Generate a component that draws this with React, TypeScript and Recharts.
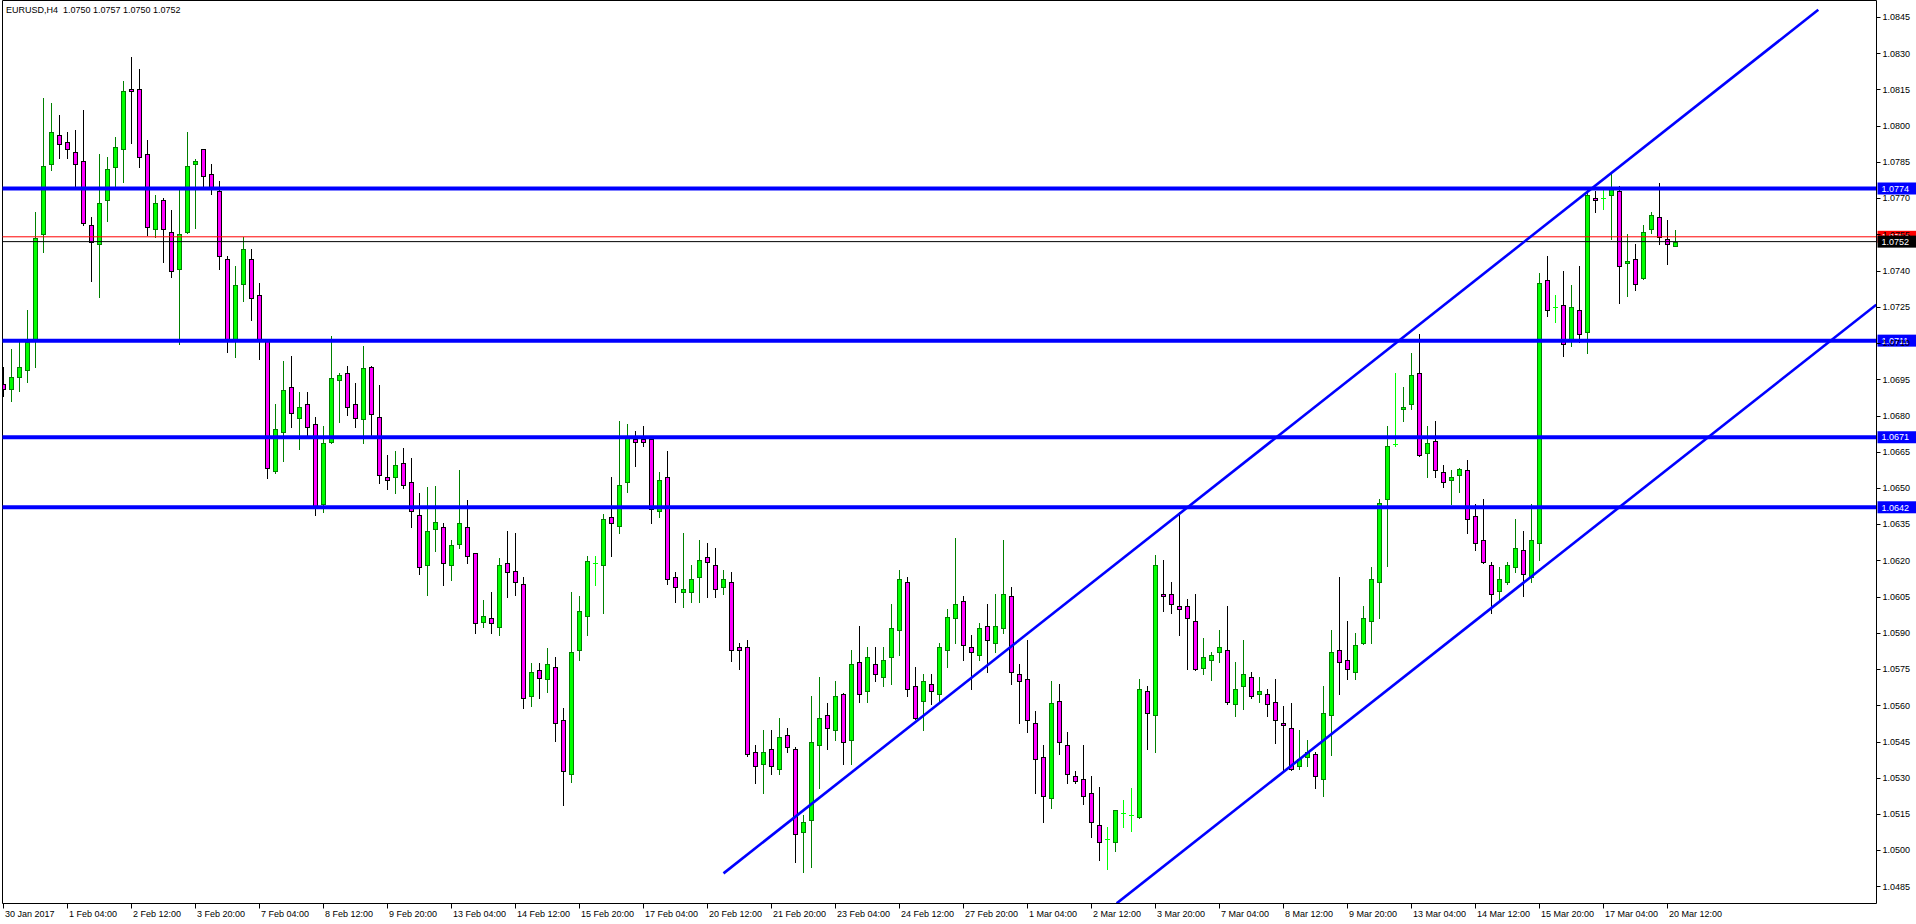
import React from 'react';
import { ComposedChart, Bar, XAxis, YAxis, ReferenceLine } from 'recharts';

// ---- OHLC data (EURUSD H4), bar index 0 = 30 Jan 2017 20:00 ----
const opens = [
  1.0693, 1.0691, 1.0696, 1.0699, 1.07113, 1.0755, 1.0784, 1.0796, 1.07931, 1.0789,
  1.07852, 1.07587, 1.07509, 1.07691, 1.0783, 1.07902, 1.08151, 1.08151, 1.07881, 1.07571,
  1.07691, 1.07558, 1.07408, 1.07558, 1.0784, 1.07902, 1.07799, 1.07728, 1.07447, 1.07107,
  1.07346, 1.07447, 1.07298, 1.07107, 1.06572, 1.06733, 1.06917, 1.06791, 1.06846, 1.06763,
  1.06432, 1.06692, 1.06946, 1.06975, 1.06846, 1.06784, 1.07002, 1.06792, 1.06544, 1.06544,
  1.06602, 1.06523, 1.0639, 1.06179, 1.06332, 1.0634, 1.06179, 1.0627, 1.0634, 1.06229,
  1.05947, 1.0596, 1.05926, 1.06191, 1.06158, 1.06101, 1.05637, 1.05748, 1.05707, 1.05757,
  1.05538, 1.05314, 1.05827, 1.05968, 1.06191, 1.0618, 1.06381, 1.06341, 1.06523, 1.06704,
  1.06704, 1.06704, 1.06403, 1.06544, 1.0613, 1.06071, 1.06071, 1.0613, 1.06213, 1.0618,
  1.06089, 1.06109, 1.0584, 1.0584, 1.05405, 1.05356, 1.05418, 1.05335, 1.05476, 1.05418,
  1.05074, 1.05124, 1.05434, 1.05559, 1.05496, 1.05646, 1.05455, 1.05778, 1.05658, 1.0577,
  1.05716, 1.05799, 1.0591, 1.06109, 1.05679, 1.05617, 1.05687, 1.05646, 1.05828, 1.0596,
  1.06031, 1.0584, 1.05807, 1.05927, 1.05857, 1.05919, 1.06051, 1.05728, 1.05708, 1.05525,
  1.05385, 1.05215, 1.05617, 1.05434, 1.05306, 1.05294, 1.05236, 1.05103, 1.05045, 1.05033,
  1.05153, 1.05144, 1.05136, 1.05658, 1.05559, 1.0606, 1.0606, 1.0601, 1.0601, 1.05948,
  1.05756, 1.05786, 1.05819, 1.05828, 1.05607, 1.05679, 1.05716, 1.05646, 1.05646, 1.05615,
  1.05525, 1.05505, 1.05347, 1.05385, 1.05397, 1.05294, 1.05559, 1.05828, 1.05786, 1.05737,
  1.05857, 1.05948, 1.06109, 1.06453, 1.06682, 1.06826, 1.06846, 1.06975, 1.06643, 1.06693,
  1.06565, 1.06532, 1.06552, 1.06573, 1.06383, 1.06283, 1.0618, 1.06072, 1.06109, 1.06171,
  1.06242, 1.0613, 1.06271, 1.0736, 1.07248, 1.07256, 1.07107, 1.07236, 1.07144, 1.07699,
  1.07699, 1.07712, 1.07728, 1.0743, 1.07447, 1.07368, 1.07571, 1.07621, 1.0753, 1.0750,
];
const highs = [
  1.0700, 1.07074, 1.07115, 1.07237, 1.07641, 1.08113, 1.08093, 1.08044, 1.07973, 1.07982,
  1.08065, 1.07621, 1.07881, 1.07869, 1.07952, 1.08184, 1.08283, 1.08233, 1.07941, 1.07713,
  1.07699, 1.07651, 1.0774, 1.07973, 1.07862, 1.07905, 1.07841, 1.07771, 1.0746, 1.07419,
  1.07538, 1.07488, 1.07347, 1.0711, 1.06848, 1.07026, 1.07046, 1.06897, 1.06897, 1.06794,
  1.06757, 1.07129, 1.06975, 1.07005, 1.06933, 1.07088, 1.07005, 1.06926, 1.06637, 1.06653,
  1.06664, 1.06622, 1.06481, 1.06502, 1.0651, 1.06353, 1.06283, 1.06573, 1.06451, 1.06232,
  1.06038, 1.06071, 1.06212, 1.0632, 1.06312, 1.06131, 1.05777, 1.05777, 1.05839, 1.05798,
  1.05588, 1.06071, 1.06051, 1.0622, 1.0622, 1.06391, 1.06544, 1.06776, 1.06763, 1.06735,
  1.06755, 1.06712, 1.06565, 1.06652, 1.06151, 1.06312, 1.0618, 1.06283, 1.06271, 1.0625,
  1.06159, 1.06151, 1.05857, 1.05869, 1.05434, 1.05496, 1.05496, 1.05546, 1.05505, 1.05426,
  1.05146, 1.05639, 1.05716, 1.05608, 1.05699, 1.0565, 1.05828, 1.05927, 1.0584, 1.0584,
  1.0584, 1.06018, 1.06159, 1.0613, 1.05757, 1.05728, 1.05728, 1.05857, 1.05997, 1.06291,
  1.06051, 1.0589, 1.05939, 1.06018, 1.0606, 1.06283, 1.06089, 1.0577, 1.0587, 1.05575,
  1.05434, 1.05699, 1.05687, 1.05488, 1.05327, 1.05434, 1.05306, 1.0526, 1.05095, 1.05168,
  1.05207, 1.05256, 1.05708, 1.05679, 1.06221, 1.062, 1.06109, 1.0640, 1.06039, 1.0606,
  1.05877, 1.05819, 1.0591, 1.06011, 1.05778, 1.05869, 1.05737, 1.05716, 1.05666, 1.05708,
  1.05596, 1.05608, 1.05496, 1.05455, 1.05405, 1.05679, 1.0591, 1.0613, 1.05948, 1.05898,
  1.0601, 1.06171, 1.06453, 1.06755, 1.06975, 1.06917, 1.07057, 1.07136, 1.06755, 1.06776,
  1.06594, 1.06573, 1.06581, 1.06614, 1.06432, 1.06453, 1.06192, 1.06171, 1.06192, 1.0637,
  1.0632, 1.06432, 1.07389, 1.07459, 1.07298, 1.07397, 1.07339, 1.07419, 1.0774, 1.07728,
  1.0774, 1.0781, 1.07749, 1.0755, 1.07509, 1.07587, 1.07641, 1.07761, 1.07608, 1.0757,
];
const lows = [
  1.0688, 1.0686, 1.0690, 1.0694, 1.0700, 1.07478, 1.07817, 1.07868, 1.07868, 1.0774,
  1.07587, 1.07358, 1.0729, 1.07607, 1.07748, 1.07768, 1.0793, 1.0783, 1.07549, 1.07538,
  1.07437, 1.07375, 1.07095, 1.07555, 1.07578, 1.0774, 1.07717, 1.07407, 1.07064, 1.07044,
  1.07274, 1.07196, 1.07035, 1.06543, 1.06563, 1.06613, 1.06754, 1.06663, 1.06721, 1.06388,
  1.06402, 1.06685, 1.06775, 1.06804, 1.06754, 1.06685, 1.06712, 1.06522, 1.06494, 1.06481,
  1.06501, 1.06339, 1.06142, 1.06058, 1.0624, 1.061, 1.0612, 1.0625, 1.0619, 1.05898,
  1.05925, 1.05898, 1.0589, 1.06049, 1.06058, 1.05588, 1.05596, 1.05629, 1.05657, 1.05453,
  1.05186, 1.05284, 1.05786, 1.0589, 1.061, 1.05981, 1.0622, 1.06312, 1.06482, 1.06592,
  1.06672, 1.06354, 1.06381, 1.06101, 1.06029, 1.06009, 1.06029, 1.06029, 1.0605, 1.0605,
  1.0606, 1.05785, 1.05749, 1.05392, 1.05277, 1.05236, 1.05314, 1.05314, 1.05405, 1.04953,
  1.04911, 1.04932, 1.05256, 1.05418, 1.05455, 1.05356, 1.05356, 1.05615, 1.05615, 1.05699,
  1.05679, 1.05687, 1.05807, 1.05637, 1.05543, 1.05496, 1.05604, 1.05617, 1.05757, 1.05857,
  1.05786, 1.05666, 1.05786, 1.05737, 1.05819, 1.05898, 1.05687, 1.05525, 1.05488, 1.05236,
  1.05115, 1.05173, 1.05397, 1.05277, 1.05277, 1.0519, 1.05053, 1.04961, 1.04924, 1.04995,
  1.05095, 1.05081, 1.05133, 1.05418, 1.05405, 1.05989, 1.05981, 1.0589, 1.05749, 1.05745,
  1.05728, 1.05706, 1.05778, 1.05607, 1.05557, 1.05586, 1.05629, 1.05615, 1.05557, 1.05445,
  1.05327, 1.05332, 1.05335, 1.05347, 1.05256, 1.05223, 1.05396, 1.05646, 1.05708, 1.05708,
  1.05855, 1.05857, 1.0596, 1.06178, 1.06672, 1.06776, 1.06826, 1.06632, 1.06544, 1.06544,
  1.06503, 1.06432, 1.06482, 1.06312, 1.06242, 1.06189, 1.05981, 1.06031, 1.06101, 1.06151,
  1.06051, 1.06109, 1.062, 1.07213, 1.07186, 1.07045, 1.07086, 1.07106, 1.07057, 1.07641,
  1.07656, 1.0753, 1.07267, 1.07296, 1.07318, 1.07365, 1.07557, 1.07509, 1.07429, 1.0750,
];
const closes = [
  1.0691, 1.0696, 1.0700, 1.07106, 1.07536, 1.07832, 1.07973, 1.07923, 1.07902, 1.0784,
  1.07599, 1.07518, 1.07679, 1.07819, 1.0791, 1.08142, 1.08142, 1.07869, 1.07579, 1.07679,
  1.07571, 1.07397, 1.0755, 1.07832, 1.07852, 1.0779, 1.0774, 1.07459, 1.07113, 1.07339,
  1.07488, 1.07288, 1.07113, 1.06581, 1.06743, 1.06904, 1.06812, 1.06834, 1.06754, 1.06423,
  1.06685, 1.06954, 1.06966, 1.06834, 1.06791, 1.06995, 1.06805, 1.06552, 1.06532, 1.06594,
  1.06511, 1.06403, 1.06171, 1.0632, 1.06361, 1.06191, 1.06262, 1.06353, 1.0622, 1.05939,
  1.05968, 1.05939, 1.06179, 1.0615, 1.06109, 1.05629, 1.05736, 1.05715, 1.05769, 1.05525,
  1.05327, 1.05819, 1.05989, 1.06199, 1.06191, 1.0637, 1.06354, 1.06511, 1.06712, 1.06692,
  1.06692, 1.06411, 1.06532, 1.06122, 1.06089, 1.0608, 1.06122, 1.062, 1.06192, 1.0608,
  1.06122, 1.05828, 1.05828, 1.05397, 1.05347, 1.05405, 1.05347, 1.05467, 1.05426, 1.05066,
  1.05115, 1.05447, 1.05546, 1.05505, 1.05637, 1.05447, 1.0577, 1.05646, 1.05799, 1.05728,
  1.05786, 1.05919, 1.06122, 1.05666, 1.05546, 1.05699, 1.05658, 1.0584, 1.05967, 1.06018,
  1.05848, 1.05819, 1.05919, 1.05869, 1.05927, 1.0606, 1.05737, 1.05699, 1.05538, 1.05376,
  1.05223, 1.05608, 1.05447, 1.05314, 1.05285, 1.05223, 1.05115, 1.05033, 1.05045, 1.05165,
  1.05153, 1.05144, 1.05666, 1.05567, 1.0618, 1.06051, 1.06018, 1.05997, 1.0596, 1.05749,
  1.05799, 1.05807, 1.0584, 1.05615, 1.05666, 1.05728, 1.05637, 1.05658, 1.05607, 1.05538,
  1.05517, 1.05335, 1.05376, 1.05405, 1.05306, 1.05567, 1.05819, 1.05778, 1.05749, 1.05848,
  1.0596, 1.06122, 1.06439, 1.06672, 1.06682, 1.06834, 1.06966, 1.06635, 1.06685, 1.06573,
  1.06523, 1.06544, 1.06578, 1.0637, 1.06271, 1.06192, 1.0606, 1.06122, 1.0618, 1.0625,
  1.06142, 1.06283, 1.07347, 1.07236, 1.07248, 1.07095, 1.07248, 1.07136, 1.07712, 1.07691,
  1.07699, 1.0774, 1.07418, 1.07438, 1.07346, 1.07558, 1.07629, 1.07538, 1.07509, 1.0752,
];

// time-scale labels, one every 8 bars
const xTickLabels = [
  '30 Jan 2017', '1 Feb 04:00', '2 Feb 12:00', '3 Feb 20:00', '7 Feb 04:00', '8 Feb 12:00',
  '9 Feb 20:00', '13 Feb 04:00', '14 Feb 12:00', '15 Feb 20:00', '17 Feb 04:00', '20 Feb 12:00',
  '21 Feb 20:00', '23 Feb 04:00', '24 Feb 12:00', '27 Feb 20:00', '1 Mar 04:00', '2 Mar 12:00',
  '3 Mar 20:00', '7 Mar 04:00', '8 Mar 12:00', '9 Mar 20:00', '13 Mar 04:00', '14 Mar 12:00',
  '15 Mar 20:00', '17 Mar 04:00', '20 Mar 12:00',
];
const yTickValues = [
  1.0485, 1.0500, 1.0515, 1.0530, 1.0545, 1.0560, 1.0575, 1.0590, 1.0605, 1.0620,
  1.0635, 1.0650, 1.0665, 1.0680, 1.0695, 1.0710, 1.0725, 1.0740, 1.0755, 1.0770,
  1.0785, 1.0800, 1.0815, 1.0830, 1.0845,
];
const levelPrices = [1.0774, 1.0711, 1.0671, 1.0642];
const askPrice = 1.0754;
const bidPrice = 1.0752;
// channel trend lines: [bar index, price]
const upperChannel = [[90.0, 1.04904], [226.85, 1.0848]];
const lowerChannel = [[139.15, 1.0478], [234.1, 1.07259]];

const X_DOMAIN: [number, number] = [-0.125, 234.125];
const Y_DOMAIN: [number, number] = [1.0477934, 1.0851847];

const FONT = 'Liberation Sans, Arial, sans-serif';
const BULL_FILL = '#00FF00';
const BULL_LINE = '#008000';
const BEAR_FILL = '#FF00FF';
const BEAR_LINE = '#000000';
const DOJI = '#00FF00';
const LEVEL_BLUE = '#0000FF';

const data = opens.map((o, i) => ({ i, o, h: highs[i], l: lows[i], c: closes[i] }));

function Candle(props: any) {
  const { x, y, width, height, payload } = props;
  if (payload == null || height == null || !isFinite(height)) return null;
  const { o, h, l, c } = payload;
  const k = h - l > 0 ? height / (h - l) : 0;
  const py = (v: number) => y + (h - v) * k;
  const cx = Math.floor(x + width / 2 + 1e-6) + 0.5;
  const yH = Math.round(py(h));
  const yL = Math.round(py(l)) + 1;
  if (o === c) {
    const yo = Math.round(py(o)) + 0.5;
    return (
      <g>
        <line x1={cx} x2={cx} y1={yH} y2={yL} stroke={DOJI} strokeWidth={1} />
        <line x1={cx - 2.5} x2={cx + 2.5} y1={yo} y2={yo} stroke={DOJI} strokeWidth={1} />
      </g>
    );
  }
  const bull = c > o;
  const stroke = bull ? BULL_LINE : BEAR_LINE;
  const fill = bull ? BULL_FILL : BEAR_FILL;
  const top = Math.round(py(Math.max(o, c)));
  const bot = Math.round(py(Math.min(o, c)));
  const bh = Math.max(bot - top, 1);
  return (
    <g>
      <line x1={cx} x2={cx} y1={yH} y2={yL} stroke={stroke} strokeWidth={1} />
      <rect x={cx - 2} y={top + 0.5} width={4} height={bh} fill={fill} stroke={stroke} strokeWidth={1} />
    </g>
  );
}

function PriceTag(props: any) {
  const { viewBox, price, bg } = props;
  if (!viewBox) return null;
  const left = viewBox.x + viewBox.width;
  const y = viewBox.y;
  return (
    <g>
      <rect x={left + 1} y={y - 6} width={40} height={12} fill={bg} />
      <text x={left + 5} y={y} dy="0.36em" fill="#FFFFFF" fontSize={9} fontFamily={FONT}>
        {price.toFixed(4)}
      </text>
    </g>
  );
}

function YTick(props: any) {
  const { x, y, payload } = props;
  return (
    <g>
      <line x1={x} x2={x + 4} y1={Math.round(y) + 0.5} y2={Math.round(y) + 0.5} stroke="#000" strokeWidth={1} />
      <text x={x + 6} y={y} dy="0.36em" fill="#000" fontSize={9} fontFamily={FONT}>
        {Number(payload.value).toFixed(4)}
      </text>
    </g>
  );
}

function XTick(props: any) {
  const { x, y, payload } = props;
  const label = xTickLabels[Math.round(payload.value / 8)];
  const xs = Math.floor(x + 1e-6) + 0.5;
  return (
    <g>
      <line x1={xs} x2={xs} y1={y} y2={y + 5} stroke="#000" strokeWidth={1} />
      <text x={xs + 1.5} y={y + 10} dy="0.36em" fill="#000" fontSize={9} fontFamily={FONT}>
        {label}
      </text>
    </g>
  );
}

export default function App() {
  const xTicks = xTickLabels.map((_, j) => j * 8);
  return (
    <div style={{ position: 'absolute', left: 0, top: 0, width: 1916, height: 924, background: '#fff' }}>
      <ComposedChart
        width={1916}
        height={924}
        data={data}
        margin={{ top: 0.5, right: 0, bottom: 0, left: 2.5 }}
      >
        <XAxis
          type="number"
          dataKey="i"
          domain={X_DOMAIN}
          allowDataOverflow
          ticks={xTicks}
          interval={0}
          height={20.5}
          tickSize={0}
          tickMargin={0}
          tickLine={false}
          axisLine={{ stroke: '#000', strokeWidth: 1 }}
          tick={<XTick />}
        />
        <YAxis
          type="number"
          orientation="right"
          domain={Y_DOMAIN}
          allowDataOverflow
          ticks={yTickValues}
          interval={0}
          width={39.5}
          tickSize={0}
          tickMargin={0}
          tickLine={false}
          axisLine={{ stroke: '#000', strokeWidth: 1 }}
          tick={<YTick />}
        />
        <Bar
          dataKey={(d: any) => [d.l, d.h]}
          barSize={6}
          isAnimationActive={false}
          shape={(p: any) => <Candle {...p} />}
        />
        <ReferenceLine x={X_DOMAIN[0]} stroke="#000" strokeWidth={1} ifOverflow="visible" />
        <ReferenceLine y={Y_DOMAIN[1]} stroke="#000" strokeWidth={1} ifOverflow="visible" />
        <ReferenceLine y={askPrice} stroke="#FF0000" strokeWidth={1} label={<PriceTag price={askPrice} bg="#FF0000" />} />
        <ReferenceLine y={bidPrice} stroke="#000000" strokeWidth={1} label={<PriceTag price={bidPrice} bg="#000000" />} />
        {levelPrices.map((p) => (
          <ReferenceLine key={p} y={p} stroke={LEVEL_BLUE} strokeWidth={4} label={<PriceTag price={p} bg={LEVEL_BLUE} />} />
        ))}
        <ReferenceLine
          segment={[{ x: upperChannel[0][0], y: upperChannel[0][1] }, { x: upperChannel[1][0], y: upperChannel[1][1] }]}
          stroke={LEVEL_BLUE}
          strokeWidth={2.6}
          ifOverflow="hidden"
        />
        <ReferenceLine
          segment={[{ x: lowerChannel[0][0], y: lowerChannel[0][1] }, { x: lowerChannel[1][0], y: lowerChannel[1][1] }]}
          stroke={LEVEL_BLUE}
          strokeWidth={2.6}
          ifOverflow="hidden"
        />
      </ComposedChart>
      <div
        style={{
          position: 'absolute', left: 6, top: 5, fontFamily: FONT, fontSize: 9, color: '#000',
          whiteSpace: 'pre', lineHeight: '11px',
        }}
      >
        {'EURUSD,H4  1.0750 1.0757 1.0750 1.0752'}
      </div>
    </div>
  );
}
